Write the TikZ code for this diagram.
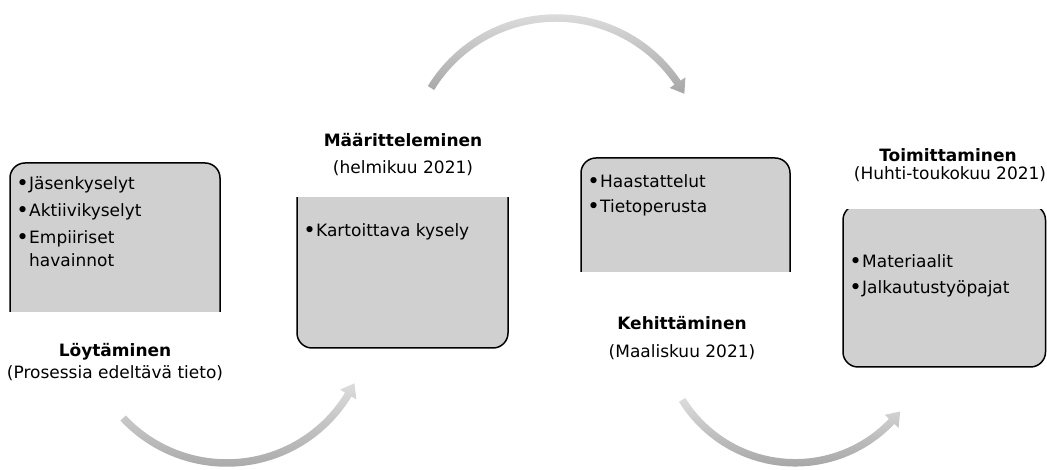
\documentclass[tikz,border=0pt]{standalone}
\usepackage{fontspec}
\setmainfont{DejaVu Sans}
\usetikzlibrary{calc}
\definecolor{boxgray}{HTML}{D0D0D0}
\definecolor{arrlight}{HTML}{DCDCDC}
\definecolor{arrdark}{HTML}{A6A6A6}
\newcommand{\mybul}{\makebox[13pt][c]{\raisebox{-0.6pt}{\scalebox{1.25}{•}}}}
\begin{document}
\begin{tikzpicture}[x=1pt,y=1pt,
  box/.style={draw=black, line width=1.5pt, fill=boxgray, rounded corners=15pt},
  item/.style={anchor=base west, inner sep=0pt, font=\fontsize{17}{20}\selectfont},
  ttl/.style={anchor=base, inner sep=0pt, font=\fontsize{17}{20}\selectfont\bfseries},
  sub/.style={anchor=base, inner sep=0pt, font=\fontsize{17}{20}\selectfont},
  arr/.style={top color=arrlight, bottom color=arrdark, draw=none}]
\useasboundingbox (0,0) rectangle (1047,470);

% boxes (partly cut)
\begin{scope}
  \clip (0,158) rectangle (240,470);
  \draw[box] (10,130) rectangle (220,307);
\end{scope}
\begin{scope}
  \clip (280,0) rectangle (530,272);
  \draw[box] (297,122) rectangle (508,300);
\end{scope}
\begin{scope}
  \clip (560,198) rectangle (810,470);
  \draw[box] (581,160) rectangle (790,312);
\end{scope}
\begin{scope}
  \clip (830,90) rectangle (1047,260);
  \draw[box] (843,103) rectangle (1045.5,265);
\end{scope}

% curved arrows
\coordinate (c1) at (226.8,149);
\coordinate (c2) at (556,305.4);
\coordinate (c3) at (795.2,140.2);

\shade[arr] ($(c1)+(-136.9:145.75pt)$) arc[start angle=-136.9, end angle=-31.2, radius=145.75pt]
  -- ($(c1)+(-31.2:151.5pt)$) -- ($(c1)+(-26:142pt)$) -- ($(c1)+(-31.2:132.5pt)$)
  -- ($(c1)+(-31.2:138.25pt)$) arc[start angle=-31.2, end angle=-136.9, radius=138.25pt] -- cycle;

\shade[arr] ($(c2)+(148.5:150.35pt)$) arc[start angle=148.5, end angle=34, radius=150.35pt]
  -- ($(c2)+(34:156.1pt)$) -- ($(c2)+(28.9:146.6pt)$) -- ($(c2)+(34:137.1pt)$)
  -- ($(c2)+(34:142.85pt)$) arc[start angle=34, end angle=148.5, radius=142.85pt] -- cycle;

\shade[arr] ($(c3)+(-148.2:136.75pt)$) arc[start angle=-148.2, end angle=-43.5, radius=136.75pt]
  -- ($(c3)+(-43.5:142.5pt)$) -- ($(c3)+(-37.9:133pt)$) -- ($(c3)+(-43.5:123.5pt)$)
  -- ($(c3)+(-43.5:129.25pt)$) arc[start angle=-43.5, end angle=-148.2, radius=129.25pt] -- cycle;

% box contents
\node[item] (i11) at (16,280) {\mybul Jäsenkyselyt};
\node[item] (i12) at (16,253) {\mybul Aktiivikyselyt};
\node[item] (i13) at (16,226) {\mybul Empiiriset};
\node[item] (i14) at (29,203) {havainnot};

\node[item] (i21) at (303,233) {\mybul Kartoittava kysely};

\node[item] (i31) at (587,282) {\mybul Haastattelut};
\node[item] (i32) at (587,257.5) {\mybul Tietoperusta};

\node[item] (i41) at (849,202) {\mybul Materiaalit};
\node[item] (i42) at (849,176) {\mybul Jalkautustyöpajat};

% titles
\node[ttl] (t1) at (115,113) {Löytäminen};
\node[sub] (s1) at (115,91) {(Prosessia edeltävä tieto)};
\node[ttl] (t2) at (403,323) {Määritteleminen};
\node[sub] (s2) at (403,296) {(helmikuu 2021)};
\node[ttl] (t3) at (682,140) {Kehittäminen};
\node[sub] (s3) at (682,112) {(Maaliskuu 2021)};
\node[ttl] (t4) at (948,308) {Toimittaminen};
\node[sub] (s4) at (950,290) {(Huhti-toukokuu 2021)};
\end{tikzpicture}
\end{document}
